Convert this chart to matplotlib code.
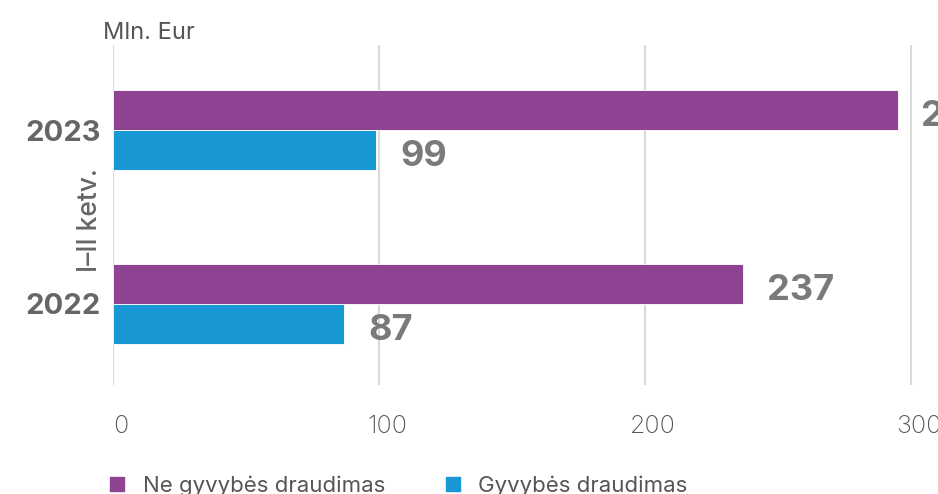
import numpy as np
import matplotlib.pyplot as plt
from matplotlib.lines import Line2D

# Data
years = ["2022", "2023"]
non_life = [237, 295]   # Ne gyvybės draudimas
life = [87, 99]         # Gyvybės draudimas
x_ticks = [0, 100, 200, 300]

purple = "#8E4393"
blue = "#1899D6"
grey = "#7a7a7a"

plt.rcParams['font.family'] = ['Inter', 'DejaVu Sans']

fig = plt.figure(figsize=(9.38, 4.94), dpi=100)
ax = fig.add_axes([113 / 938, 109 / 494, 851 / 938, 340 / 494])

y = np.arange(len(years))
h = 0.23
bars_nl = ax.barh(y + h / 2, non_life, height=h, color=purple, edgecolor="white", linewidth=0.6, zorder=3)
bars_l = ax.barh(y - h / 2, life, height=h, color=blue, edgecolor="white", linewidth=0.6, zorder=3)

for bars in (bars_nl, bars_l):
    for b in bars:
        ax.annotate(f"{b.get_width():.0f}", (b.get_width(), b.get_y() + b.get_height() / 2),
                    xytext=(17, -5), textcoords="offset points", ha="left", va="center",
                    fontsize=26, fontweight="bold", color=grey, annotation_clip=False)

ax.set_xlim(0, 320)
ax.set_ylim(-0.466, 1.489)
ax.set_xticks(x_ticks)
ax.set_xticklabels([])
# x tick labels drawn by hand, a little right of the grid lines
for t in x_ticks:
    ax.annotate(str(t), (t, 0), xycoords=ax.get_xaxis_transform(), xytext=(6, -30),
                textcoords="offset points", ha="center", va="center", fontsize=18,
                color="#555555", fontweight="light", annotation_clip=False)
ax.set_yticks(y)
ax.set_yticklabels(years, fontsize=21, fontweight="bold", color="#666666")
ax.tick_params(axis="x", length=0)
ax.tick_params(axis="y", length=0, pad=9)
ax.grid(axis="x", color="#d9d9d9", linewidth=1.5, zorder=0)
for s in ax.spines.values():
    s.set_visible(False)

fig.text(103 / 938, 1 - 33 / 494, "Mln. Eur", fontsize=17, color="#555555", va="center", ha="left")
fig.text(90 / 938, 1 - 220 / 494, "I–II ketv.", fontsize=19, color="#666666", rotation=90,
         va="center", ha="center", fontweight="medium")

handles = [Line2D([], [], marker="s", linestyle="none", markersize=10, color=purple),
           Line2D([], [], marker="s", linestyle="none", markersize=10, color=blue)]
fig.legend(handles, ["Ne gyvybės draudimas", "Gyvybės draudimas"], loc="center left",
           bbox_to_anchor=(86 / 938, 1 - 486 / 494), ncol=2, frameon=False, fontsize=16,
           labelcolor="#555555", handletextpad=0.65, columnspacing=2.55, handlelength=1.0)

fig.savefig("out.png", dpi=100)
